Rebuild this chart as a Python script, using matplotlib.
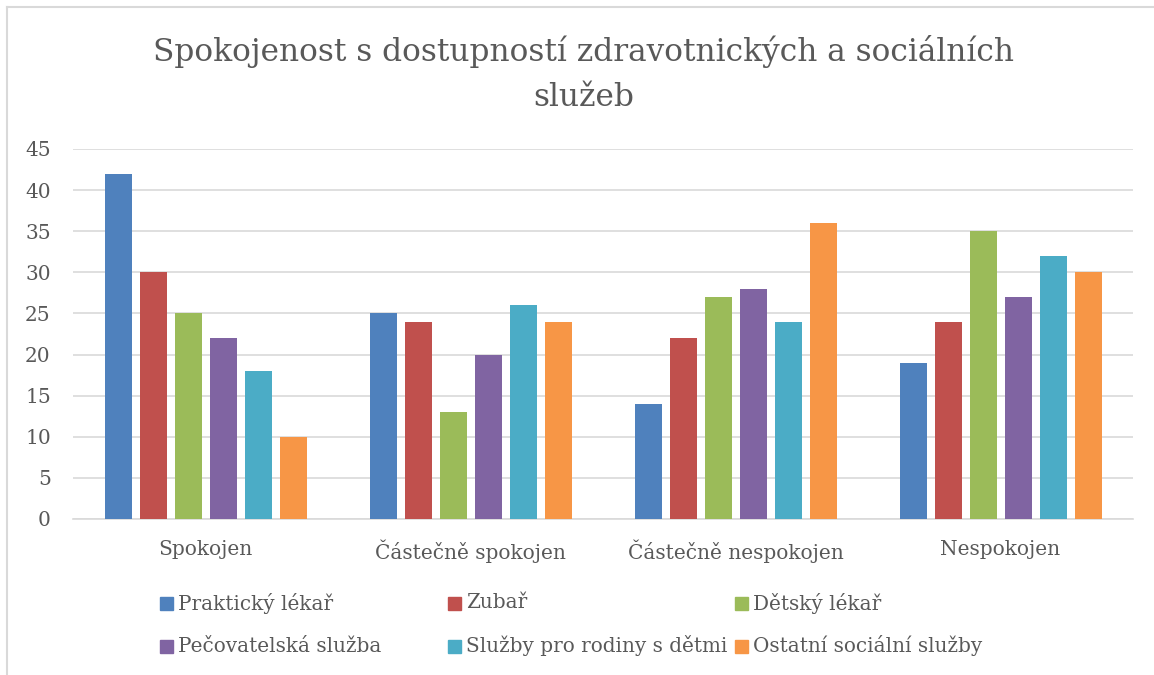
import matplotlib
matplotlib.use("Agg")
import matplotlib.pyplot as plt
import numpy as np
from matplotlib.patches import Rectangle
from matplotlib.lines import Line2D

categories = ["Spokojen", "Částečně spokojen", "Částečně nespokojen", "Nespokojen"]
series_names = ["Praktický lékař", "Zubař", "Dětský lékař",
                "Pečovatelská služba", "Služby pro rodiny s dětmi", "Ostatní sociální služby"]
praktik = [42, 25, 14, 19]
zubar = [30, 24, 22, 24]
detsky = [25, 13, 27, 35]
pecovatelska = [22, 20, 28, 27]
rodiny = [18, 26, 24, 32]
ostatni = [10, 24, 36, 30]
values = [praktik, zubar, detsky, pecovatelska, rodiny, ostatni]
colors = ["#4F81BD", "#C0504D", "#9BBB59", "#8064A2", "#4BACC6", "#F79646"]
yticks = [0, 5, 10, 15, 20, 25, 30, 35, 40, 45]

FONT = "DejaVu Serif"
TEXT = "#595959"
W, H = 1154, 675

fig = plt.figure(figsize=(W / 100, H / 100), dpi=100)
ax = fig.add_axes([73 / W, 1 - 519 / H, (1133 - 73) / W, (519 - 149) / H])

x = np.arange(len(categories))
step = 35 / 265
width = 27 / 265
for i, (vals, col) in enumerate(zip(values, colors)):
    ax.bar(x + (i - 2.5) * step, vals, width, color=col, zorder=3)

ax.set_xlim(-0.5, len(categories) - 0.5)
ax.set_ylim(0, 45)
ax.set_yticks(yticks)
ax.set_yticklabels([str(v) for v in yticks], fontfamily=FONT, fontsize=14.5, color=TEXT)
ax.set_xticks(x)
ax.set_xticklabels(categories, fontfamily=FONT, fontsize=14.5, color=TEXT)
ax.tick_params(length=0)
ax.tick_params(axis="y", pad=16)
ax.tick_params(axis="x", pad=15)
ax.grid(axis="y", color="#D9D9D9", linewidth=1.2, zorder=0)
for s in ["top", "right", "left"]:
    ax.spines[s].set_visible(False)
ax.spines["bottom"].set_color("#D9D9D9")
ax.spines["bottom"].set_linewidth(1.2)

fig.text(584 / W, 1 - 74 / H, "Spokojenost s dostupností zdravotnických a sociálních\nslužeb",
         ha="center", va="center", fontfamily=FONT, fontsize=22.5, color=TEXT,
         linespacing=1.6)

# legend laid out like the office chart
leg_x = [160, 448, 735]
leg_y = [603, 646]
for i, (name, col) in enumerate(zip(series_names, colors)):
    cx = leg_x[i % 3]
    cy = leg_y[i // 3]
    fig.patches.append(Rectangle(((cx) / W, 1 - (cy + 7) / H), 13 / W, 13 / H,
                                 transform=fig.transFigure, color=col))
    fig.text((cx + 18) / W, 1 - cy / H, name, ha="left", va="center",
             fontfamily=FONT, fontsize=14.4, color=TEXT)

# chart border
fig.add_artist(Line2D([7 / W, 1], [1 - 7 / H, 1 - 7 / H], color="#D9D9D9", linewidth=1.5,
                      transform=fig.transFigure))
fig.add_artist(Line2D([7 / W, 7 / W], [0, 1 - 7 / H], color="#D9D9D9", linewidth=1.5,
                      transform=fig.transFigure))

fig.savefig("out.png", dpi=100)
